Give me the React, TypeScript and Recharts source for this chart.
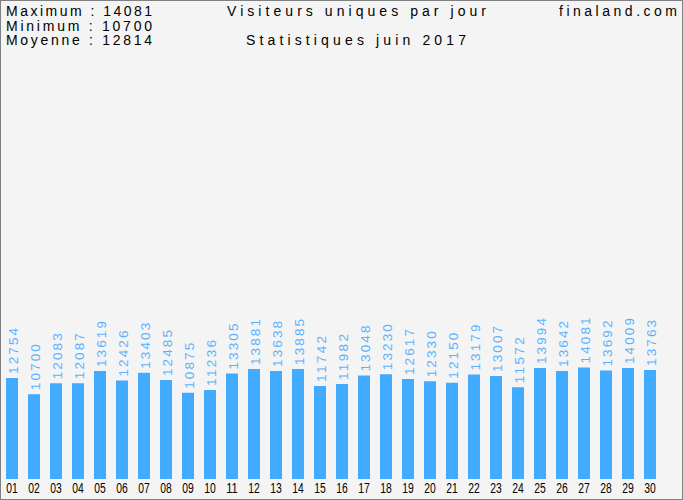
import { Bar, BarChart, LabelList, XAxis, YAxis } from 'recharts';

// Daily unique visitors, June 2017 (finaland.com).
const days = [
  '01', '02', '03', '04', '05', '06', '07', '08', '09', '10',
  '11', '12', '13', '14', '15', '16', '17', '18', '19', '20',
  '21', '22', '23', '24', '25', '26', '27', '28', '29', '30',
];
const visitors = [
  12754, 10700, 12083, 12087, 13619, 12426, 13403, 12485, 10875, 11236,
  13305, 13881, 13638, 13885, 11742, 11982, 13048, 13230, 12617, 12330,
  12150, 13179, 13007, 11572, 13994, 13642, 14081, 13692, 14009, 13763,
];
const summaryLabels = ['Maximum', 'Minimum', 'Moyenne'];
const summaryValues = [14081, 10700, 12814];
const title = 'Visiteurs uniques par jour';
const subtitle = 'Statistiques juin 2017';
const site = 'finaland.com';

const W = 683;
const H = 500;
const BAR = '#42aaff';
const LABEL = '#5ab2ff';
const FONT = '"Liberation Sans", Arial, sans-serif';

const data = days.map((day, i) => ({ day, value: visitors[i] }));

function DayTick({ x, y, payload }: any) {
  return (
    <text
      x={x}
      y={y + 14}
      textAnchor="middle"
      fontFamily={FONT}
      fontSize={14}
      fill="#000"
      textLength={11.5}
      lengthAdjust="spacingAndGlyphs"
    >
      {payload.value}
    </text>
  );
}

function ValueLabel({ x, y, width, value }: any) {
  const cx = x + width / 2 + 5.5;
  const cy = y - 4;
  return (
    <text
      transform={`translate(${cx}, ${cy}) rotate(-90)`}
      textAnchor="start"
      fontFamily={FONT}
      fontSize={13.5}
      fill={LABEL}
      textLength={46}
      lengthAdjust="spacing"
    >
      {value}
    </text>
  );
}

export default function App() {
  const headerLines = summaryLabels.map(
    (label, i) => `${label} : ${summaryValues[i]}`
  );
  return (
    <div
      style={{
        position: 'absolute',
        left: 0,
        top: 0,
        width: W,
        height: H,
        background: '#f4f4f4',
      }}
    >
      <BarChart
        width={W}
        height={H}
        data={data}
        margin={{ top: 59, right: 22, left: 1, bottom: 1 }}
      >
        <XAxis
          dataKey="day"
          height={20}
          axisLine={false}
          tickLine={false}
          tickSize={0}
          tickMargin={0}
          interval={0}
          tick={<DayTick />}
        />
        <YAxis hide domain={[0, 53000]} />
        <Bar dataKey="value" fill={BAR} barSize={12} isAnimationActive={false}>
          <LabelList dataKey="value" content={<ValueLabel />} />
        </Bar>
      </BarChart>
      <svg
        width={W}
        height={H}
        style={{ position: 'absolute', left: 0, top: 0, pointerEvents: 'none' }}
      >
        <rect
          x={0.5}
          y={0.5}
          width={W - 1}
          height={H - 1}
          fill="none"
          stroke="#808080"
        />
        <g fontFamily={FONT} fontSize={14} fill="#000">
          {headerLines.map((line, i) => (
            <text
              key={line}
              x={6}
              y={16 + i * 14.5}
              textLength={146}
              lengthAdjust="spacing"
            >
              {line}
            </text>
          ))}
          <text x={227} y={16} textLength={259} lengthAdjust="spacing">
            {title}
          </text>
          <text x={246} y={45} textLength={220} lengthAdjust="spacing">
            {subtitle}
          </text>
          <text x={559} y={16} textLength={118} lengthAdjust="spacing">
            {site}
          </text>
        </g>
      </svg>
    </div>
  );
}
